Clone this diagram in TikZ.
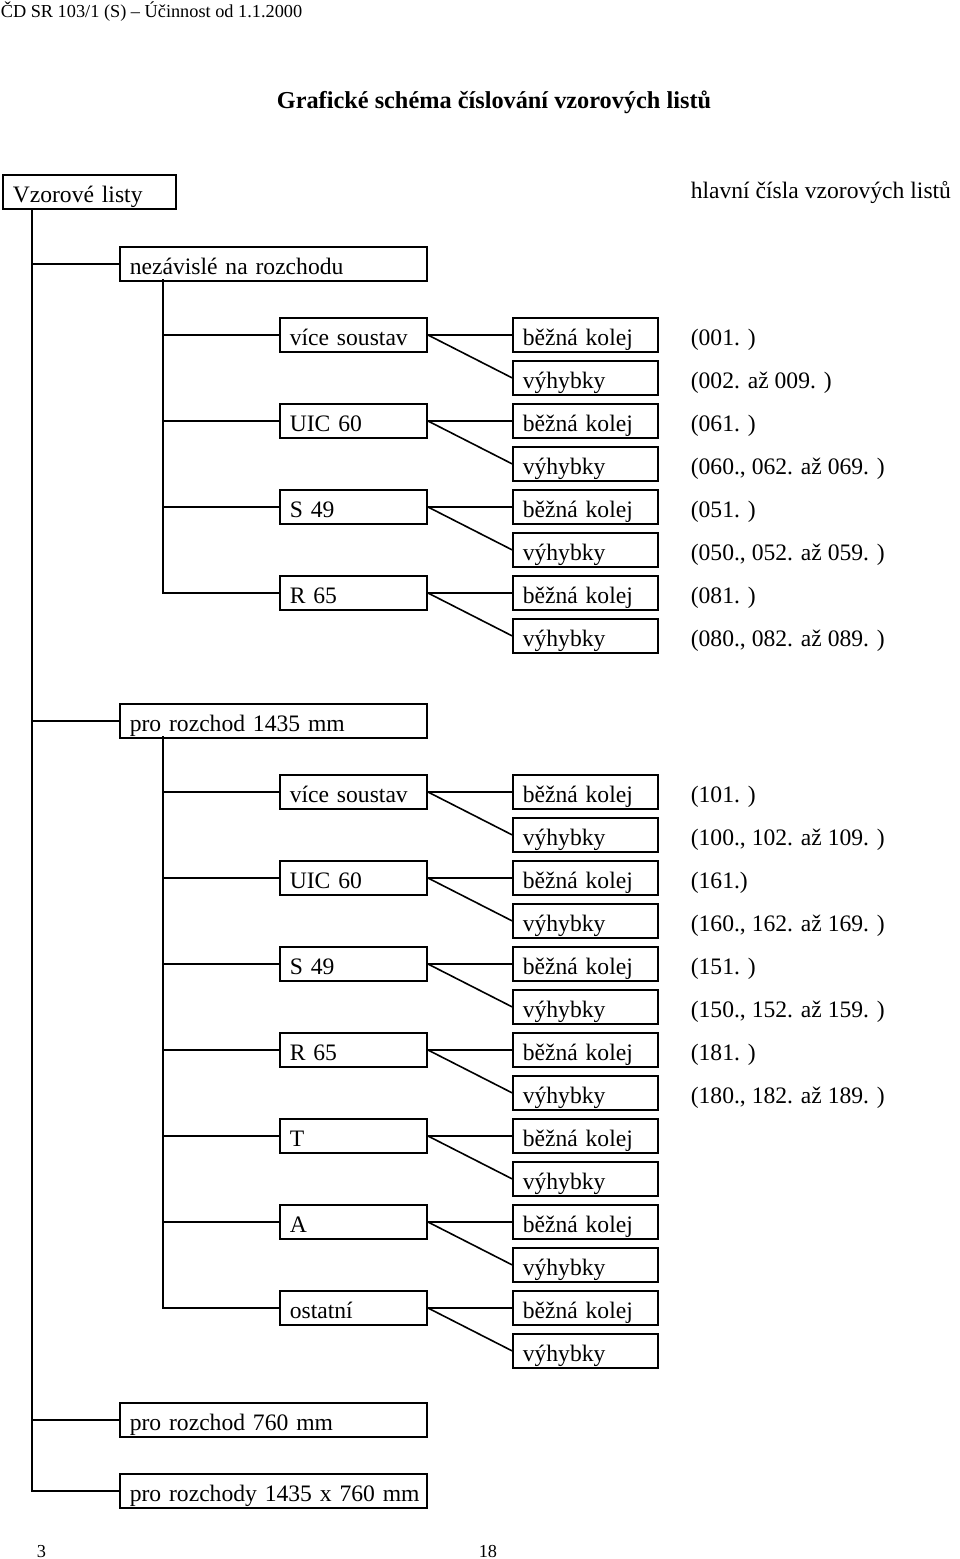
\documentclass[tikz,border=0pt]{standalone}
\usepackage{fontspec}
\setmainfont{Liberation Serif}
\begin{document}
\begin{tikzpicture}[x=1pt,y=-1pt,
  line width=1.6pt,
  font=\fontsize{23.6}{28}\selectfont,
  box/.style={draw, line width=1.6pt, anchor=north west, inner xsep=10pt, inner ysep=0pt,
    minimum height=34pt, text height=28pt, text depth=6pt, align=left},
  wbox/.style={box, text width=287pt},
  cbox/.style={box, text width=127pt},
  ibox/.style={box, text width=125pt},
  code/.style={anchor=base west, inner sep=0pt}
]
\useasboundingbox (0,0) rectangle (960,1559);

% header
\node[anchor=base west, inner sep=0pt, font=\fontsize{18.3}{22}\selectfont] (hdr) at (0,17) {ČD SR 103/1 (S) – Účinnost od 1.1.2000};
\node[anchor=base, inner sep=0pt, font=\fontsize{24.3}{28}\selectfont\bfseries] (title) at (494,108) {Grafické schéma číslování vzorových listů};

% root
\node[box, text width=153pt] (root) at (2,174) {\mbox{Vzorové listy}};
\node[code] (hl) at (690,198) {hlavní čísla vzorových listů};

% level 1
\node[wbox] (nez) at (119,246) {\mbox{nezávislé na rozchodu}};
\node[wbox] (p1435) at (119,703) {\mbox{pro rozchod 1435 mm}};
\node[wbox] (p760) at (119,1402) {\mbox{pro rozchod 760 mm}};
\node[wbox] (p1435x) at (119,1473) {\mbox{pro rozchody 1435 x 760 mm}};

\coordinate (t0) at (32,208);
\draw (t0) |- (p1435x.west);
\draw (t0 |- nez.west) -- (nez.west);
\draw (t0 |- p1435.west) -- (p1435.west);
\draw (t0 |- p760.west) -- (p760.west);

% part 1
\foreach \n/\lab [count=\i from 0] in {a/více soustav, b/UIC 60, c/S 49, d/R 65}{
  \pgfmathsetmacro{\yy}{317+86*\i}
  \node[cbox] (A\n) at (279,\yy) {\mbox{\lab}};
  \node[ibox] (A\n b) at (512,\yy) {\mbox{běžná kolej}};
  \node[ibox] (A\n v) at (512,\yy+43) {\mbox{výhybky}};
  \draw (A\n.east) -- (A\n b.west);
  \draw (A\n.east) -- (A\n v.west);
}
\coordinate (s1) at (163,279);
\draw (s1) |- (Ad.west);
\foreach \n in {a,b,c}{ \draw (s1 |- A\n.west) -- (A\n.west); }

\foreach \t [count=\i from 0] in {(001. ),(002. až 009. ),(061. ),(060., 062. až 069. ),(051. ),(050., 052. až 059. ),(081. ),(080., 082. až 089. )}{
  \pgfmathsetmacro{\yy}{345+43*\i}
  \node[code] (c1-\i) at (690,\yy) {\t};
}

% part 2
\foreach \n/\lab [count=\i from 0] in {a/více soustav, b/UIC 60, c/S 49, d/R 65, e/T, f/A, g/ostatní}{
  \pgfmathsetmacro{\yy}{774+86*\i}
  \node[cbox] (B\n) at (279,\yy) {\mbox{\lab}};
  \node[ibox] (B\n b) at (512,\yy) {\mbox{běžná kolej}};
  \node[ibox] (B\n v) at (512,\yy+43) {\mbox{výhybky}};
  \draw (B\n.east) -- (B\n b.west);
  \draw (B\n.east) -- (B\n v.west);
}
\coordinate (s2) at (163,736);
\draw (s2) |- (Bg.west);
\foreach \n in {a,b,c,d,e,f}{ \draw (s2 |- B\n.west) -- (B\n.west); }

\foreach \t [count=\i from 0] in {(101. ),(100., 102. až 109. ),(161.),(160., 162. až 169. ),(151. ),(150., 152. až 159. ),(181. ),(180., 182. až 189. )}{
  \pgfmathsetmacro{\yy}{802+43*\i}
  \node[code] (c2-\i) at (690,\yy) {\t};
}

% footer
\node[anchor=base west, inner sep=0pt, font=\fontsize{18.3}{22}\selectfont] (f1) at (36,1557) {3};
\node[anchor=base west, inner sep=0pt, font=\fontsize{18.3}{22}\selectfont] (f2) at (478,1557) {18};
\end{tikzpicture}
\end{document}
